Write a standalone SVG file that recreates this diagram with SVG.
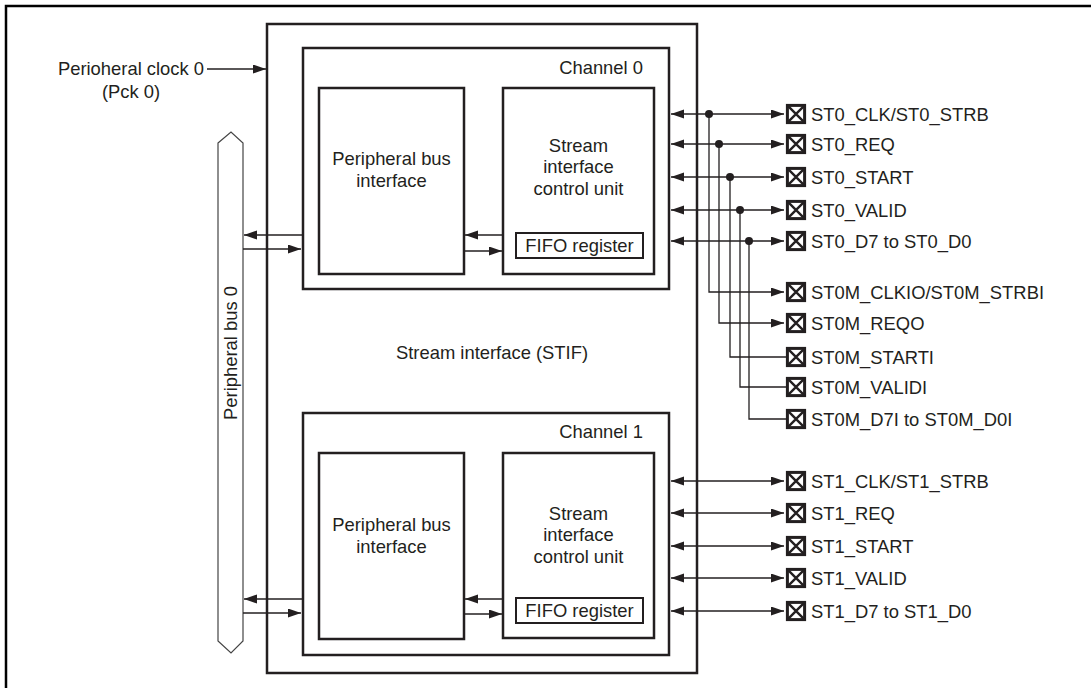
<svg xmlns="http://www.w3.org/2000/svg" xmlns:xlink="http://www.w3.org/1999/xlink" width="1091" height="688" viewBox="0 0 1091 688">
<defs>
<style>
.box{fill:none;stroke:#231f20;stroke-width:2.5}
.frame{fill:none;stroke:#000;stroke-width:2.5}
.bus{fill:#fff;stroke:#444;stroke-width:1.2}
.t{font-family:"Liberation Sans",Arial,sans-serif;font-size:18.4px;fill:#231f20}
.m{text-anchor:middle}
.e{text-anchor:end}
.w{fill:none;stroke:#231f20;stroke-width:1.3}
.a{marker-end:url(#ah)}
.b{marker-start:url(#ah);marker-end:url(#ah)}
.pin{fill:#fff;stroke:#231f20;stroke-width:3}
.x{stroke:#231f20;stroke-width:2.4}
.dot{fill:#231f20}
</style>
<marker id="ah" markerUnits="userSpaceOnUse" markerWidth="14" markerHeight="10" refX="13" refY="4.5" orient="auto-start-reverse"><path d="M0,0 L13,4.5 L0,9 Z" fill="#231f20"/></marker>
<g id="pinbox"><rect x="-8.6" y="-8.6" width="17.2" height="17.2" class="pin"/><path d="M-8.6,-8.6 L8.6,8.6 M8.6,-8.6 L-8.6,8.6" class="x"/></g>
</defs>
<rect width="1091" height="688" fill="#fff"/>
<rect id="frame" x="6" y="6" width="1100" height="700" class="frame"/>

<g id="clock-label">
<text class="t m" x="131" y="75">Perioheral clock 0</text>
<text class="t m" x="131" y="98">(Pck 0)</text>
</g>

<g id="peripheral-bus-0">
<polygon class="bus" points="218,143 231,132 243,143 243,641 231,653 218,641"/>
<text class="t m" transform="translate(237,353) rotate(-90)">Peripheral bus 0</text>
</g>

<g id="stif">
<rect class="box" x="267" y="24" width="430" height="649"/>
<text class="t m" x="492" y="359">Stream interface (STIF)</text>
</g>

<g id="channel0">
<rect class="box" x="303" y="48" width="366" height="241"/>
<text class="t e" x="643" y="74">Channel 0</text>
</g>
<g id="pbi0">
<rect class="box" x="319" y="88" width="145" height="186"/>
<text class="t m" x="391.5" y="165">Peripheral bus</text>
<text class="t m" x="391.5" y="187">interface</text>
</g>
<g id="sicu0">
<rect class="box" x="503" y="88" width="151" height="186"/>
<text class="t m" x="578.5" y="152">Stream</text>
<text class="t m" x="578.5" y="173">interface</text>
<text class="t m" x="578.5" y="195">control unit</text>
</g>
<g id="fifo0">
<rect class="box" x="516" y="233" width="127" height="25" style="stroke-width:2"/>
<text class="t m" x="579.5" y="252">FIFO register</text>
</g>

<g id="channel1">
<rect class="box" x="303" y="413" width="366" height="242"/>
<text class="t e" x="643" y="438">Channel 1</text>
</g>
<g id="pbi1">
<rect class="box" x="319" y="453" width="145" height="186"/>
<text class="t m" x="391.5" y="531">Peripheral bus</text>
<text class="t m" x="391.5" y="553">interface</text>
</g>
<g id="sicu1">
<rect class="box" x="503" y="453" width="151" height="185"/>
<text class="t m" x="578.5" y="520">Stream</text>
<text class="t m" x="578.5" y="541">interface</text>
<text class="t m" x="578.5" y="563">control unit</text>
</g>
<g id="fifo1">
<rect class="box" x="516" y="598" width="127" height="25" style="stroke-width:2"/>
<text class="t m" x="579.5" y="617">FIFO register</text>
</g>

<g id="pins">
<g id="pin-st0-clk"><use xlink:href="#pinbox" x="796" y="114"/><text class="t" x="811" y="120.5">ST0_CLK/ST0_STRB</text></g>
<g id="pin-st0-req"><use xlink:href="#pinbox" x="796" y="144"/><text class="t" x="811" y="150.5">ST0_REQ</text></g>
<g id="pin-st0-start"><use xlink:href="#pinbox" x="796" y="177"/><text class="t" x="811" y="183.5">ST0_START</text></g>
<g id="pin-st0-valid"><use xlink:href="#pinbox" x="796" y="210"/><text class="t" x="811" y="216.5">ST0_VALID</text></g>
<g id="pin-st0-d"><use xlink:href="#pinbox" x="796" y="241"/><text class="t" x="811" y="247.5">ST0_D7 to ST0_D0</text></g>
<g id="pin-st0m-clkio"><use xlink:href="#pinbox" x="796" y="292"/><text class="t" x="811" y="298.5">ST0M_CLKIO/ST0M_STRBI</text></g>
<g id="pin-st0m-reqo"><use xlink:href="#pinbox" x="796" y="323"/><text class="t" x="811" y="329.5">ST0M_REQO</text></g>
<g id="pin-st0m-starti"><use xlink:href="#pinbox" x="796" y="357"/><text class="t" x="811" y="363.5">ST0M_STARTI</text></g>
<g id="pin-st0m-validi"><use xlink:href="#pinbox" x="796" y="387"/><text class="t" x="811" y="393.5">ST0M_VALIDI</text></g>
<g id="pin-st0m-d"><use xlink:href="#pinbox" x="796" y="419"/><text class="t" x="811" y="425.5">ST0M_D7I to ST0M_D0I</text></g>
<g id="pin-st1-clk"><use xlink:href="#pinbox" x="796" y="481"/><text class="t" x="811" y="487.5">ST1_CLK/ST1_STRB</text></g>
<g id="pin-st1-req"><use xlink:href="#pinbox" x="796" y="513"/><text class="t" x="811" y="519.5">ST1_REQ</text></g>
<g id="pin-st1-start"><use xlink:href="#pinbox" x="796" y="546"/><text class="t" x="811" y="552.5">ST1_START</text></g>
<g id="pin-st1-valid"><use xlink:href="#pinbox" x="796" y="578"/><text class="t" x="811" y="584.5">ST1_VALID</text></g>
<g id="pin-st1-d"><use xlink:href="#pinbox" x="796" y="611"/><text class="t" x="811" y="617.5">ST1_D7 to ST1_D0</text></g>
</g>

<g id="connectors">
<path class="w a" d="M207,69 H266"/>
<path class="w a" d="M303,235 H244"/>
<path class="w a" d="M243,249 H301"/>
<path class="w a" d="M503,235 H465"/>
<path class="w a" d="M464,251 H502"/>
<path class="w a" d="M303,599 H244"/>
<path class="w a" d="M243,613 H301"/>
<path class="w a" d="M503,599 H465"/>
<path class="w a" d="M464,614 H502"/>
<path class="w b" d="M671,114 H784"/>
<path class="w b" d="M671,144 H784"/>
<path class="w b" d="M671,177 H784"/>
<path class="w b" d="M671,210 H784"/>
<path class="w b" d="M671,241 H784"/>
<circle class="dot" cx="709" cy="114" r="4"/>
<circle class="dot" cx="719" cy="144" r="4"/>
<circle class="dot" cx="730" cy="177" r="4"/>
<circle class="dot" cx="740" cy="210" r="4"/>
<circle class="dot" cx="749" cy="241" r="4"/>
<path class="w a" d="M709,114 V292 H784"/>
<path class="w a" d="M719,144 V323 H784"/>
<path class="w" d="M730,177 V357 H787"/>
<path class="w" d="M740,210 V387 H787"/>
<path class="w" d="M749,241 V419 H787"/>
<path class="w b" d="M671,481 H784"/>
<path class="w b" d="M671,513 H784"/>
<path class="w b" d="M671,546 H784"/>
<path class="w b" d="M671,578 H784"/>
<path class="w b" d="M671,611 H784"/>
</g>
</svg>
